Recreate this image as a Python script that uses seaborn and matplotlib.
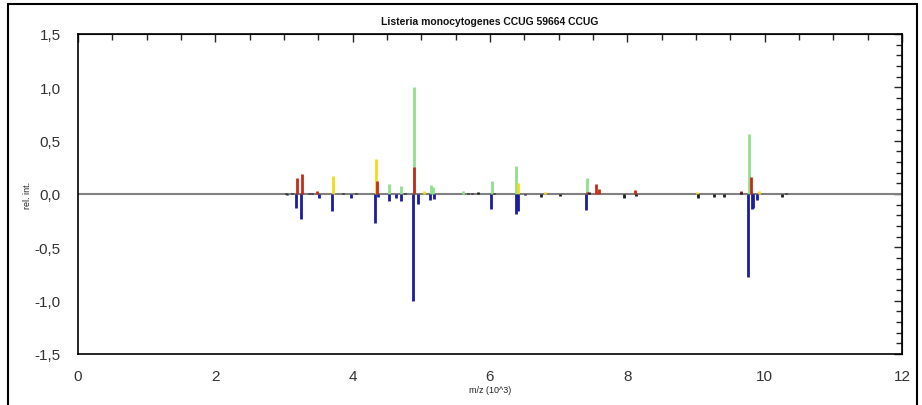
import numpy as np
import pandas as pd
import matplotlib
matplotlib.use("Agg")
import matplotlib.pyplot as plt
from matplotlib.ticker import MultipleLocator
from matplotlib.lines import Line2D
import seaborn as sns

# ---------------- data (m/z in 10^3, relative intensity) ----------------
green_mz = [4.522, 4.704, 4.893, 5.136, 5.174, 5.602, 6.025, 6.378, 7.412, 9.775]
green_int = [0.095, 0.075, 1.0, 0.08, 0.065, 0.025, 0.12, 0.26, 0.15, 0.56]

yellow_mz = [3.709, 4.335, 5.040, 6.407, 6.800, 9.010, 9.917]
yellow_int = [0.17, 0.33, 0.03, 0.105, 0.02, 0.02, 0.03]

red_mz = [3.189, 3.262, 3.480, 4.350, 4.893, 7.410, 7.550, 7.587, 8.111, 9.662, 9.800]
red_int = [0.15, 0.19, 0.025, 0.125, 0.25, 0.02, 0.09, 0.05, 0.04, 0.03, 0.16]

blue_mz = [3.175, 3.247, 3.510, 3.699, 3.976, 4.320, 4.369, 4.522, 4.631, 4.704,
           4.878, 4.956, 5.133, 5.184, 6.010, 6.378, 6.415, 7.398, 9.761, 9.815,
           9.837, 9.888]
blue_int = [-0.13, -0.23, -0.035, -0.155, -0.04, -0.275, -0.03, -0.07, -0.035, -0.065,
            -1.0, -0.09, -0.06, -0.045, -0.14, -0.19, -0.16, -0.15, -0.78, -0.14,
            -0.13, -0.055]

black_mz = [3.03, 3.04, 3.12, 3.36, 3.41, 3.86, 4.05, 4.76, 5.68, 5.74, 5.825,
            6.06, 6.509, 6.738, 7.019, 7.44, 7.951, 8.126, 9.029, 9.262, 9.403,
            9.66, 10.252, 10.31]
black_int = [0.01, -0.01, 0.01, 0.01, 0.012, 0.01, 0.01, 0.012, 0.01, 0.01, 0.015,
             0.01, -0.012, -0.03, -0.02, 0.02, -0.04, -0.02, -0.035, -0.03, -0.03,
             0.02, -0.03, 0.01]

x_ticks = [0, 2, 4, 6, 8, 10, 12]
x_tick_labels = ["0", "2", "4", "6", "8", "10", "12"]
y_ticks = [-1.5, -1.0, -0.5, 0.0, 0.5, 1.0, 1.5]
y_tick_labels = ["-1,5", "-1,0", "-0,5", "0,0", "0,5", "1,0", "1,5"]

title = "Listeria monocytogenes CCUG 59664 CCUG"
x_label = "m/z (10^3)"
y_label = "rel. int."

# ---------------- build long-form table (each peak = one vertical stem) ----
series = [("green", green_mz, green_int), ("yellow", yellow_mz, yellow_int),
          ("red", red_mz, red_int), ("blue", blue_mz, blue_int),
          ("black", black_mz, black_int)]
rows = []
pid = 0
for cls, mzs, ints in series:
    for m, v in zip(mzs, ints):
        rows.append({"mz": m, "y": 0.0, "pid": pid, "cls": cls})
        rows.append({"mz": m, "y": v, "pid": pid, "cls": cls})
        pid += 1
df = pd.DataFrame(rows)

palette = {"green": "#8fe08c", "yellow": "#f2dc18", "red": "#c62a1a",
           "blue": "#1c1ca0", "black": "#1e1e1e"}

# ---------------- figure ----------------
sns.set_style("white")
plt.rcParams["font.family"] = ["Liberation Sans Narrow", "Liberation Sans", "DejaVu Sans"]

W, H = 922, 406
fig = plt.figure(figsize=(W / 100, H / 100), dpi=100)
fig.patch.set_facecolor("white")

ax = fig.add_axes([78 / W, 1 - 355 / H, (902 - 78) / W, (355 - 35) / H])
ax.axhline(0, color="#808080", lw=1.5, zorder=1)

sns.lineplot(data=df, x="mz", y="y", units="pid", estimator=None, hue="cls",
             hue_order=["green", "yellow", "red", "blue", "black"],
             palette=palette, lw=2.0, sort=False, legend=False, ax=ax,
             solid_capstyle="butt", zorder=3)

ax.set_xlim(0, 12)
ax.set_ylim(-1.5, 1.5)
ax.set_xticks(x_ticks)
ax.set_xticklabels(x_tick_labels)
ax.set_yticks(y_ticks)
ax.set_yticklabels(y_tick_labels)
ax.xaxis.set_minor_locator(MultipleLocator(0.5))
ax.yaxis.set_minor_locator(MultipleLocator(0.1))
ax.tick_params(which="major", direction="inout", length=9, width=1, color="black",
               labelsize=11, labelcolor="#333333", pad=6)
ax.tick_params(which="minor", direction="inout", length=6, width=1, color="black")
ax.tick_params(axis="y", which="major", pad=8)
ax.set_xlabel(x_label, fontsize=6.5, labelpad=2, color="#222222")
ax.set_ylabel(y_label, fontsize=6.5, labelpad=2, color="#222222")
ax.set_title(title, fontsize=7.5, pad=7, color="#111111", fontweight="semibold")
for s in ax.spines.values():
    s.set_color("black")
    s.set_linewidth(1.2)

# inward ticks on top and right
secx = ax.secondary_xaxis("top")
secx.set_xticks(x_ticks)
secx.xaxis.set_minor_locator(MultipleLocator(0.5))
secx.tick_params(which="major", direction="in", length=6, width=1, labeltop=False)
secx.tick_params(which="minor", direction="in", length=4, width=1)
secy = ax.secondary_yaxis("right")
secy.set_yticks(y_ticks)
secy.yaxis.set_minor_locator(MultipleLocator(0.1))
secy.tick_params(which="major", direction="in", length=6, width=1, labelright=False)
secy.tick_params(which="minor", direction="in", length=4, width=1)

# outer frame of the screenshot
fr = dict(color="black", lw=1.5, transform=fig.transFigure)
fig.add_artist(Line2D([8 / W, 8 / W], [0, 1 - 5 / H], **fr))
fig.add_artist(Line2D([8 / W, 917 / W], [1 - 5 / H, 1 - 5 / H], **fr))
fig.add_artist(Line2D([917 / W, 917 / W], [0, 1 - 5 / H], **fr))

fig.savefig("out.png", dpi=100, facecolor="white")
